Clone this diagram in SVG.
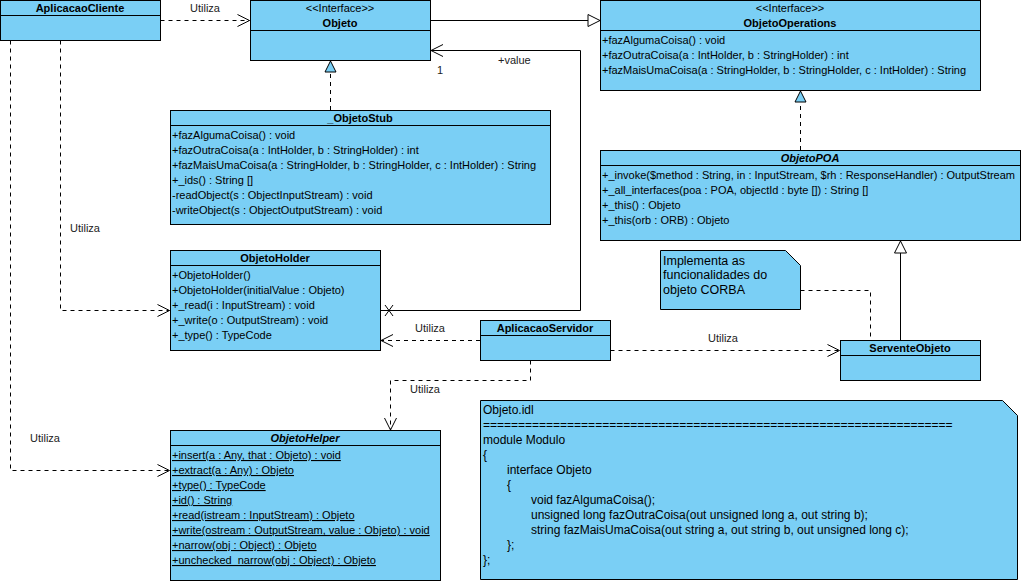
<svg xmlns="http://www.w3.org/2000/svg" width="1021" height="581" viewBox="0 0 1021 581">
<style>
  text { font-family: "Liberation Sans", Arial, sans-serif; font-size: 11px; fill: #000; }
  .box { fill: #7acff5; stroke: #000; stroke-width: 1; }
  .sep { stroke: #000; stroke-width: 1; }
  .title { font-weight: bold; text-anchor: middle; }
  .ital { font-style: italic; }
  .ster { text-anchor: middle; }
  .static { text-decoration: underline; }
  .lbl { fill: #222; }
  .idl { font-size: 12px; }
  .note { font-size: 12.5px; }
  .dash { fill: none; stroke: #000; stroke-width: 1; stroke-dasharray: 4 4; }
  .solid { fill: none; stroke: #000; stroke-width: 1; }
</style>
<defs>
  <marker id="open" markerUnits="userSpaceOnUse" markerWidth="14" markerHeight="14" refX="12" refY="6" orient="auto" overflow="visible">
    <path d="M0,0 L12,6 L0,12" fill="none" stroke="#000" stroke-width="1" stroke-dasharray="none"/>
  </marker>
  <marker id="triW" markerUnits="userSpaceOnUse" markerWidth="14" markerHeight="14" refX="12" refY="6" orient="auto" overflow="visible">
    <path d="M0,0 L12,6 L0,12 Z" fill="#fff" stroke="#000" stroke-width="1" stroke-dasharray="none"/>
  </marker>
  <marker id="triB" markerUnits="userSpaceOnUse" markerWidth="14" markerHeight="14" refX="11" refY="5.5" orient="auto" overflow="visible">
    <path d="M0,0 L11,5.5 L0,11 Z" fill="#7acff5" stroke="#000" stroke-width="1" stroke-dasharray="none"/>
  </marker>
</defs>
<rect width="1021" height="581" fill="#fff"/>

<g id="connectors">
  <path class="dash" d="M160.5,20.5 H249.5" marker-end="url(#open)"/>
  <path class="dash" d="M60.5,40.5 V310.5 H169.5" marker-end="url(#open)"/>
  <path class="dash" d="M10.5,40.5 V470.5 H169.5" marker-end="url(#open)"/>
  <path class="dash" d="M330.5,110 V61" marker-end="url(#triB)"/>
  <path class="solid" d="M430.5,20.5 H600" marker-end="url(#triW)"/>
  <path class="solid" d="M380.5,310.5 H580.5 V50.5 H431" marker-end="url(#open)"/>
  <path class="solid" d="M385,305 L393,316 M393,305 L385,316"/>
  <path class="dash" d="M800.5,150 V91" marker-end="url(#triB)"/>
  <path class="solid" d="M900.5,340 V241" marker-end="url(#triW)"/>
  <path class="dash" d="M480,340.5 H381" marker-end="url(#open)"/>
  <path class="dash" d="M610.5,350.5 H839.5" marker-end="url(#open)"/>
  <path class="dash" d="M530.5,360.5 V380.5 H390.5 V430" marker-end="url(#open)"/>
  <path class="dash" d="M800.5,290.5 H870.5 V340"/>
  <text class="lbl" x="190" y="12">Utiliza</text>
  <text class="lbl" x="70" y="232">Utiliza</text>
  <text class="lbl" x="30" y="442">Utiliza</text>
  <text class="lbl" x="415" y="332">Utiliza</text>
  <text class="lbl" x="708" y="342">Utiliza</text>
  <text class="lbl" x="410" y="393">Utiliza</text>
  <text class="lbl" x="437" y="74">1</text>
  <text class="lbl" x="498" y="64">+value</text>
</g>

<g id="AplicacaoCliente">
  <rect class="box" x="0.5" y="0.5" width="160" height="40"/>
  <line class="sep" x1="0.5" y1="15.5" x2="160.5" y2="15.5"/>
  <text class="title" x="80" y="12">AplicacaoCliente</text>
</g>

<g id="Objeto">
  <rect class="box" x="250.5" y="0.5" width="180" height="60"/>
  <line class="sep" x1="250.5" y1="30.5" x2="430.5" y2="30.5"/>
  <text class="ster" x="340" y="12">&lt;&lt;Interface&gt;&gt;</text>
  <text class="title" x="340" y="27">Objeto</text>
</g>

<g id="ObjetoOperations">
  <rect class="box" x="600.5" y="0.5" width="380" height="90"/>
  <line class="sep" x1="600.5" y1="30.5" x2="980.5" y2="30.5"/>
  <text class="ster" x="790" y="12">&lt;&lt;Interface&gt;&gt;</text>
  <text class="title" x="790" y="27">ObjetoOperations</text>
  <text x="602" y="44">+fazAlgumaCoisa() : void</text>
  <text x="602" y="59">+fazOutraCoisa(a : IntHolder, b : StringHolder) : int</text>
  <text x="602" y="74">+fazMaisUmaCoisa(a : StringHolder, b : StringHolder, c : IntHolder) : String</text>
</g>

<g id="_ObjetoStub">
  <rect class="box" x="170.5" y="110.5" width="380" height="114"/>
  <line class="sep" x1="170.5" y1="125.5" x2="550.5" y2="125.5"/>
  <text class="title" x="360" y="122">_ObjetoStub</text>
  <text x="172" y="139">+fazAlgumaCoisa() : void</text>
  <text x="172" y="154">+fazOutraCoisa(a : IntHolder, b : StringHolder) : int</text>
  <text x="172" y="169">+fazMaisUmaCoisa(a : StringHolder, b : StringHolder, c : IntHolder) : String</text>
  <text x="172" y="184">+_ids() : String []</text>
  <text x="172" y="199">-readObject(s : ObjectInputStream) : void</text>
  <text x="172" y="214">-writeObject(s : ObjectOutputStream) : void</text>
</g>

<g id="ObjetoPOA">
  <rect class="box" x="600.5" y="150.5" width="420" height="90"/>
  <line class="sep" x1="600.5" y1="165.5" x2="1020.5" y2="165.5"/>
  <text class="title ital" x="810" y="162">ObjetoPOA</text>
  <text x="602" y="179">+_invoke($method : String, in : InputStream, $rh : ResponseHandler) : OutputStream</text>
  <text x="602" y="194">+_all_interfaces(poa : POA, objectId : byte []) : String []</text>
  <text x="602" y="209">+_this() : Objeto</text>
  <text x="602" y="224">+_this(orb : ORB) : Objeto</text>
</g>

<g id="NotaServente">
  <path class="box" d="M660.5,250.5 H785.5 L800.5,265.5 V309.5 H660.5 Z"/>
  <text class="note" x="663" y="265">Implementa as</text>
  <text class="note" x="663" y="279">funcionalidades do</text>
  <text class="note" x="663" y="294">objeto CORBA</text>
</g>

<g id="ObjetoHolder">
  <rect class="box" x="170.5" y="250.5" width="210" height="100"/>
  <line class="sep" x1="170.5" y1="265.5" x2="380.5" y2="265.5"/>
  <text class="title" x="275" y="262">ObjetoHolder</text>
  <text x="172" y="279">+ObjetoHolder()</text>
  <text x="172" y="294">+ObjetoHolder(initialValue : Objeto)</text>
  <text x="172" y="309">+_read(i : InputStream) : void</text>
  <text x="172" y="324">+_write(o : OutputStream) : void</text>
  <text x="172" y="339">+_type() : TypeCode</text>
</g>

<g id="AplicacaoServidor">
  <rect class="box" x="480.5" y="320.5" width="130" height="40"/>
  <line class="sep" x1="480.5" y1="335.5" x2="610.5" y2="335.5"/>
  <text class="title" x="545" y="332">AplicacaoServidor</text>
</g>

<g id="ServenteObjeto">
  <rect class="box" x="840.5" y="340.5" width="140" height="40"/>
  <line class="sep" x1="840.5" y1="355.5" x2="980.5" y2="355.5"/>
  <text class="title" x="910" y="352">ServenteObjeto</text>
</g>

<g id="ObjetoHelper">
  <rect class="box" x="170.5" y="430.5" width="270" height="150"/>
  <line class="sep" x1="170.5" y1="445.5" x2="440.5" y2="445.5"/>
  <text class="title ital" x="305" y="442">ObjetoHelper</text>
  <text class="static" x="172" y="459">+insert(a : Any, that : Objeto) : void</text>
  <text class="static" x="172" y="474">+extract(a : Any) : Objeto</text>
  <text class="static" x="172" y="489">+type() : TypeCode</text>
  <text class="static" x="172" y="504">+id() : String</text>
  <text class="static" x="172" y="519">+read(istream : InputStream) : Objeto</text>
  <text class="static" x="172" y="534">+write(ostream : OutputStream, value : Objeto) : void</text>
  <text class="static" x="172" y="549">+narrow(obj : Object) : Objeto</text>
  <text class="static" x="172" y="564">+unchecked_narrow(obj : Object) : Objeto</text>
</g>

<g id="NotaIDL">
  <path class="box" d="M480.5,400.5 H1002.5 L1017.5,415.5 V579.5 H480.5 Z"/>
  <text class="idl" x="483" y="414">Objeto.idl</text>
  <text class="idl" x="483" y="429">===================================================================</text>
  <text class="idl" x="483" y="444">module Modulo</text>
  <text class="idl" x="483" y="459">{</text>
  <text class="idl" x="507" y="474">interface Objeto</text>
  <text class="idl" x="507" y="489">{</text>
  <text class="idl" x="531" y="504">void fazAlgumaCoisa();</text>
  <text class="idl" x="531" y="519">unsigned long fazOutraCoisa(out unsigned long a, out string b);</text>
  <text class="idl" x="531" y="534">string fazMaisUmaCoisa(out string a, out string b, out unsigned long c);</text>
  <text class="idl" x="507" y="549">};</text>
  <text class="idl" x="483" y="564">};</text>
</g>
</svg>
